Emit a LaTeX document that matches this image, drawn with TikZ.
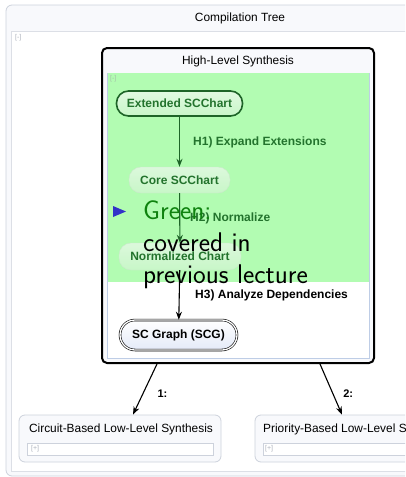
\documentclass[tikz,border=0pt]{standalone}
\usepackage{fontspec}
\setmainfont{Liberation Sans}
\usepackage{tikz}
\usetikzlibrary{arrows.meta,positioning,calc}
\definecolor{gf}{RGB}{178,252,178}
\definecolor{gd}{RGB}{30,100,40}
\definecolor{gt}{RGB}{35,115,45}
\definecolor{gl}{RGB}{205,245,205}
\definecolor{bx}{RGB}{248,249,252}
\definecolor{bxr}{RGB}{205,210,220}
\definecolor{bxi}{RGB}{190,205,230}
\definecolor{scf}{RGB}{228,234,248}
\definecolor{mk}{RGB}{175,180,190}
\definecolor{bul}{RGB}{50,50,200}
\definecolor{grn}{RGB}{15,130,15}
\tikzset{
  box/.style={rectangle,rounded corners=6pt,draw=bxr,fill=bx,line width=0.8pt,
    inner sep=0pt},
  inbox/.style={rectangle,draw=bxr,fill=white,line width=0.5pt,inner sep=0pt},
  ttl/.style={font=\fontsize{11.9}{13}\selectfont,inner sep=0pt},
  tog/.style={font=\fontsize{7}{8}\selectfont,text=mk,inner sep=0pt,anchor=west},
  sn/.style={rectangle,rounded corners=12pt,inner sep=0pt,
    font=\fontsize{12}{14}\selectfont\bfseries},
  lbl/.style={anchor=west,inner sep=0pt,font=\fontsize{12}{14}\selectfont\bfseries},
  arr/.style={-{Stealth[length=8pt,width=6pt]},line width=1.1pt},
  big/.style={anchor=base west,inner sep=0pt,font=\sffamily\fontsize{27}{32}\selectfont},
}
\begin{document}
\begin{tikzpicture}[x=1pt,y=-1pt]
    \useasboundingbox (0,0) rectangle (405,477);
    \clip (0,0) rectangle (405,477);

    % Compilation tree
    \node[box,minimum width=420pt,minimum height=471pt] (ct) at (216,240.5) {};
    \node[inbox,draw=bxr!70,minimum width=410pt,minimum height=440pt] (cti) at (216,251) {};
    \node[ttl] (ctt) at (240,18) {Compilation Tree};
    \node[tog] (ctm) at (15,38) {[-]};

    % High-level synthesis
    \node[rectangle,rounded corners=5pt,draw=black,fill=bx,line width=2pt,
      minimum width=272pt,minimum height=315pt] (hls) at (238,205.5) {};
    \node[ttl] (hlst) at (238,61) {High-Level Synthesis};
    \node[inbox,draw=bxi,minimum width=262pt,minimum height=285pt] (hlsi) at (238,215.5) {};
    \node[rectangle,fill=gf,inner sep=0pt,minimum width=261pt,minimum height=209pt] (grn) at (238,177.5) {};
    \node[tog,text=gd!40] (hlsm) at (110,79) {[-]};

    % States
    \node[sn,draw=gd,line width=1.6pt,top color=gl!60!white,bottom color=gl!80!gf,text=gt,
      minimum width=126pt,minimum height=25pt] (ext) at (179.5,103.5) {Extended SCChart};
    \node[sn,draw=gl!80!gd!60,top color=gl!70!white,bottom color=gl!80!gf,text=gt,
      minimum width=101pt,minimum height=26pt] (core) at (179.5,180) {Core SCChart};
    \node[sn,draw=gl!80!gd!60,top color=gl!70!white,bottom color=gl!80!gf,text=gt,
      minimum width=122pt,minimum height=27pt] (norm) at (180,256.5) {Normalized Chart};
    \node[sn,rounded corners=15pt,draw=black,double=white,double distance=1.3pt,
      line width=0.6pt,top color=white,bottom color=scf,minimum width=117pt,minimum height=30pt] (scg) at (178.5,335) {SC Graph (SCG)};

    \draw[arr,gd] (ext) -- (core);
    \draw[arr,gd] (core) -- (norm);
    \draw[arr] (norm) -- (scg);

    \node[lbl,text=gt] (h1) at (193,142) {H1) Expand Extensions};
    \node[lbl,text=gt] (h2) at (190,218) {H2) Normalize};
    \node[lbl] (h3) at (195,295) {H3) Analyze Dependencies};

    % Low-level synthesis
    \node[box,minimum width=202pt,minimum height=47pt] (cbl) at (120,438.5) {};
    \node[ttl] (cblt) at (121,429) {Circuit-Based Low-Level Synthesis};
    \node[inbox,minimum width=186pt,minimum height=12pt] (cbli) at (120,449) {};
    \node[tog] (cblm) at (31,449) {[+]};

    \node[box,minimum width=202pt,minimum height=47pt] (pbl) at (356,438.5) {};
    \node[ttl,anchor=west] (pblt) at (263,429) {Priority-Based Low-Level Synthesis};
    \node[inbox,minimum width=186pt,minimum height=12pt] (pbli) at (356,449) {};
    \node[tog] (pblm) at (265,449) {[+]};

    \draw[arr] ([xshift=-81pt]hls.south) -- ([xshift=13pt]cbl.north)
      node[lbl,pos=0.58,xshift=14pt,font=\fontsize{11}{12}\selectfont\bfseries] {1:};
    \draw[arr] ([xshift=82pt]hls.south) -- ([xshift=-14pt]pbl.north)
      node[lbl,pos=0.58,xshift=10pt,font=\fontsize{11}{12}\selectfont\bfseries] {2:};

    % Overlay note
    \fill[bul] (113,206) -- (126,211.5) -- (113,217) -- cycle;
    \node[big,text=grn] (n1) at (143,219) {Green:};
    \node[big] (n2) at (143,251) {covered in};
    \node[big] (n3) at (143,283) {previous lecture};
\end{tikzpicture}
\end{document}
